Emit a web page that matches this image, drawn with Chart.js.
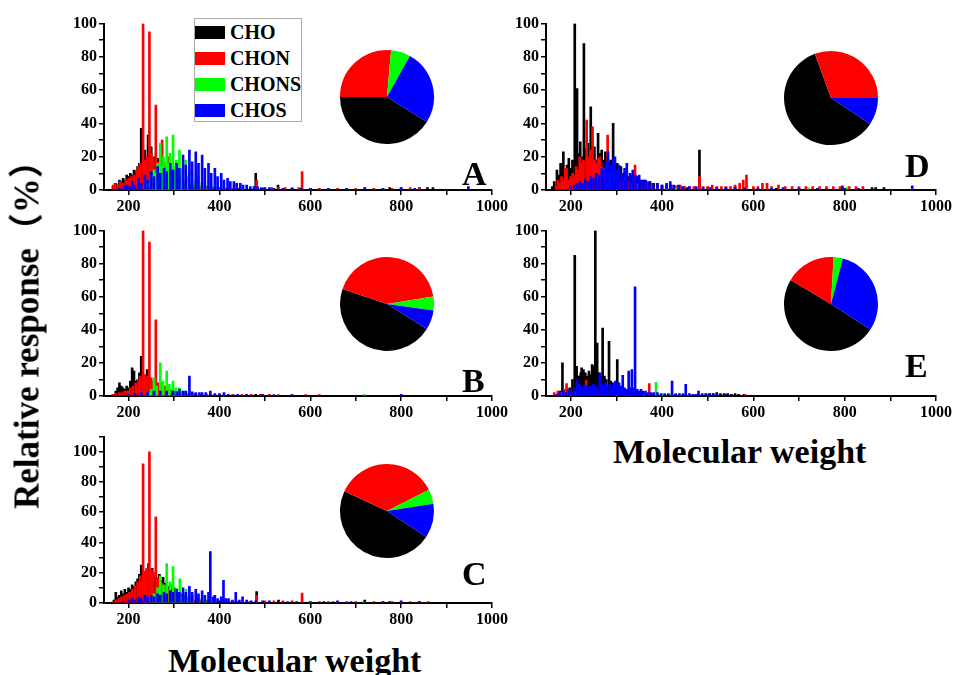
<!DOCTYPE html>
<html>
<head>
<meta charset="utf-8">
<script src="https://cdn.jsdelivr.net/npm/chart.js@4.4.1/dist/chart.umd.min.js"></script>
<style>
body{margin:0;background:#fff;}
#fig{position:relative;width:955px;height:675px;overflow:hidden;font-family:"Liberation Serif","Times New Roman",serif;font-weight:bold;color:#000;}
#fig canvas{position:absolute;}
.txt{position:absolute;font-size:34px;line-height:34px;white-space:nowrap;}
#ytitle{position:absolute;left:27px;top:326px;font-size:35px;line-height:35px;white-space:nowrap;transform:translate(-50%,-50%) rotate(-90deg);font-family:"Liberation Serif","Noto Sans CJK SC",serif;}
#legend{position:absolute;left:194px;top:18px;width:108px;height:104px;border:1px solid #aaa;box-sizing:border-box;background:#fff;}
#legend div{height:26px;display:flex;align-items:center;font-size:20px;}
#legend span{display:inline-block;width:30px;height:13px;margin-right:5px;}
</style>
</head>
<body>
<div id="fig">
<canvas id="barA" width="468" height="208" style="left:44px;top:12px"></canvas>
<canvas id="barB" width="468" height="207" style="left:44px;top:219px"></canvas>
<canvas id="barC" width="468" height="208" style="left:44px;top:425px"></canvas>
<canvas id="barD" width="470" height="208" style="left:486px;top:12px"></canvas>
<canvas id="barE" width="470" height="207" style="left:486px;top:219px"></canvas>
<canvas id="pieA" width="100" height="100" style="left:337px;top:47px"></canvas>
<canvas id="pieB" width="100" height="100" style="left:337px;top:254px"></canvas>
<canvas id="pieC" width="100" height="100" style="left:337px;top:461px"></canvas>
<canvas id="pieD" width="100" height="100" style="left:781px;top:48px"></canvas>
<canvas id="pieE" width="100" height="100" style="left:781px;top:254px"></canvas>
<div id="legend"></div>
<div class="txt" style="left:462px;top:157px">A</div>
<div class="txt" style="left:462px;top:364px">B</div>
<div class="txt" style="left:462px;top:557px">C</div>
<div class="txt" style="left:905px;top:149px">D</div>
<div class="txt" style="left:905px;top:349px">E</div>
<div class="txt" style="left:168px;top:644px">Molecular weight</div>
<div class="txt" style="left:613px;top:435px">Molecular weight</div>
<div id="ytitle">Relative response（%）</div>
</div>

<script>
// ===============================
// Data
// ===============================

const seriesNames=['CHO','CHON','CHONS','CHOS'];
const seriesColors=['#000000','#ff0000','#00ff00','#0000ff'];
const xLabels=[200,400,600,800,1000];
const yLabels=[0,20,40,60,80,100];

// [molecular weight, relative response %]
const aCHO=[[166,2],[172,4],[176,3],[180,6],[184,5],[188,7],[192,6],[196,9],[200,8],[204,10],[208,9],[212,12],[216,11],[220,14],[224,16],[228,37],[232,20],[236,24],[240,18],[243,33],[247,22],[250,26],[254,19],[257,20],[261,17],[264,19],[268,16],[271,18],[275,14],[278,17],[282,13],[285,15],[290,11],[294,12],[298,9],[303,10],[308,7],[314,7],[320,5],[326,5],[334,4],[342,3],[350,3],[360,2],[372,2],[386,1.5],[400,1.5],[420,1],[440,1],[480,10],[496,1],[529,3],[560,1],[600,1],[720,1.5],[775,1.5],[840,1.5],[858,1.5],[870,1.5]];
const aCHON=[[166,3],[170,4],[176,3],[182,5],[188,4],[194,6],[200,7],[206,8],[212,9],[218,12],[222,14],[226,16],[232,100],[236,18],[240,20],[246,95],[250,22],[254,19],[260,51],[264,17],[268,16],[274,30],[278,13],[282,14],[288,20],[292,9],[296,8],[302,10],[308,6],[316,5],[324,4],[332,3],[340,3],[350,2],[360,2],[372,2],[386,1.5],[400,1.5],[414,1],[430,1],[450,1],[482,6],[500,1.5],[515,1.5],[530,1.5],[545,1.5],[560,1.5],[575,1.5],[582,11],[600,1],[620,1],[640,1],[660,1],[680,1],[700,1],[740,1],[760,1],[780,1],[800,1.5],[820,1.5],[840,1]];
const aCHONS=[[236,3],[242,5],[250,8],[256,12],[260,10],[264,16],[270,28],[274,14],[277,20],[284,32],[288,16],[291,22],[298,33],[302,14],[305,18],[312,24],[316,10],[319,13],[326,18],[330,8],[333,10],[340,11],[347,6],[354,8],[361,4],[368,5],[375,3],[382,3],[396,2],[410,1.5],[424,1],[450,1]];
const aCHOS=[[180,1],[190,2],[196,3],[202,2],[208,5],[214,3],[222,7],[228,4],[236,9],[242,6],[250,11],[256,8],[264,14],[270,10],[278,13],[284,11],[292,16],[298,12],[306,16],[312,13],[320,21],[326,15],[334,24],[340,17],[348,23],[354,16],[362,21],[368,13],[376,16],[382,10],[390,13],[396,8],[404,10],[410,6],[418,7],[424,5],[432,5],[438,4],[446,4],[452,3],[460,3],[468,2],[476,2],[484,2],[492,1.5],[500,1.5],[510,1.5],[520,1],[540,1],[560,1],[580,1],[600,1],[640,1],[680,1],[720,1],[760,1],[800,1.5],[830,1],[948,2]];

const bCHO=[[166,1],[172,3],[176,5],[180,8],[184,6],[188,5],[192,4],[196,6],[200,5],[204,9],[208,17],[212,15],[216,9],[220,10],[224,14],[228,24],[232,12],[236,10],[241,16],[245,11],[250,9],[254,8],[258,7],[262,8],[266,6],[270,5],[276,5],[282,4],[288,4],[294,3],[300,3],[308,2],[316,2],[326,1.5],[340,1],[360,1],[380,1],[400,1],[430,1],[460,0.8],[480,1]];
const bCHON=[[166,1],[172,1.5],[180,2],[186,2],[192,3],[198,3],[204,5],[210,6],[216,8],[222,10],[226,12],[232,100],[236,13],[240,12],[246,93],[250,11],[254,9],[260,46],[264,8],[268,7],[274,8],[280,6],[286,5],[292,4],[298,3],[306,3],[314,2],[322,2],[332,1.5],[344,1.5],[358,1],[372,1],[390,1],[410,1],[430,1],[450,1],[470,1],[490,1],[510,1],[530,0.8],[560,0.8],[590,0.8],[620,0.8]];
const bCHONS=[[244,2],[250,4],[256,11],[262,6],[270,20],[276,9],[284,15],[290,7],[298,9],[304,5],[312,5],[318,3],[326,3],[340,2],[354,1],[720,0.8]];
const bCHOS=[[200,1],[214,1.5],[228,2],[242,2.5],[256,3],[270,3],[284,3],[298,3],[306,2.5],[312,4],[320,3],[326,3],[334,12],[340,2.5],[348,2],[356,2],[362,2],[370,2],[380,3],[390,1.5],[400,1.5],[410,2],[420,1],[440,1],[460,1],[495,1],[520,0.8],[560,0.8],[800,1]];

const cCHO=[[168,2],[172,7],[176,4],[180,5],[184,8],[188,6],[192,9],[196,7],[200,10],[204,9],[208,12],[212,11],[216,14],[220,16],[224,19],[228,25],[232,18],[236,20],[240,22],[244,26],[248,20],[252,23],[256,18],[260,21],[264,17],[268,19],[272,15],[276,17],[280,13],[284,14],[288,11],[292,12],[296,9],[300,10],[306,8],[312,7],[318,6],[324,5],[332,4],[340,3],[350,3],[360,2],[372,2],[386,1.5],[400,1.5],[420,1],[440,1],[482,7.6],[500,1],[530,2],[560,1],[600,1],[650,0.8],[720,2],[775,1],[840,1]];
const cCHON=[[166,1],[172,2],[178,3],[184,4],[190,5],[196,6],[202,7],[208,9],[214,11],[220,14],[226,18],[232,92],[236,21],[240,23],[246,100],[250,22],[254,20],[260,57],[264,17],[268,15],[274,13],[280,11],[286,9],[292,7],[298,6],[306,5],[314,4],[322,3],[332,3],[344,2],[358,2],[372,1.5],[390,1.5],[410,1],[430,1.5],[450,1],[466,1],[482,5],[500,1.5],[520,1.5],[540,1.5],[560,1.5],[582,6.5],[600,1],[620,1],[640,1],[660,1],[680,1],[700,1],[740,1],[760,1],[780,1],[800,1],[820,1],[840,1],[860,1]];
const cCHONS=[[250,3],[256,6],[264,10],[270,18],[277,12],[284,26],[291,14],[298,24],[305,10],[313,16],[320,7],[327,9],[334,4],[341,5],[355,3],[369,2],[383,1.5],[600,0.8],[720,0.8]];
const cCHOS=[[190,1],[200,2],[208,3],[214,2],[222,4],[228,3],[236,5],[242,4],[250,5],[256,4],[264,6],[270,5],[278,7],[284,6],[292,8],[298,7],[306,9],[312,7],[320,10],[326,7],[334,11],[340,7],[348,9],[354,6],[362,8],[368,5],[376,7],[380,34],[386,4],[390,5],[396,3],[404,4],[409,15],[414,3],[420,3],[428,2],[436,7],[444,2],[451,4],[460,2],[470,1.5],[480,1.5],[495,1.5],[510,1.5],[530,1],[550,1],[570,1],[600,1],[630,1],[660,1.5],[690,1],[720,1],[760,1],[800,1.5],[840,1]];

const dCHO=[[160,2],[164,5],[170,12],[174,9],[178,16],[182,14],[184,23],[188,10],[192,15],[196,19],[200,13],[204,18],[209,100],[214,61],[218,22],[221,29],[224,20],[229,88],[234,25],[238,28],[244,50],[248,22],[252,26],[256,18],[260,34],[264,22],[268,24],[272,18],[276,23],[280,20],[284,17],[288,18],[293,40],[298,15],[302,16],[306,12],[310,14],[316,10],[322,11],[328,8],[334,9],[340,7],[346,8],[352,6],[360,6],[366,5],[374,5],[382,4],[390,4],[400,3],[410,3],[420,3],[430,2],[440,2],[456,1.5],[470,1.5],[482,24],[500,1.5],[520,1.5],[540,1.5],[560,2],[580,1.5],[600,1],[650,1],[700,1],[760,1],[800,1],[860,1.5],[868,1.5],[886,1.5]];
const dCHON=[[168,2],[172,6],[176,4],[180,8],[184,5],[188,13],[191,13],[196,6],[200,8],[204,10],[208,9],[212,14],[216,12],[220,20],[224,16],[228,18],[235,42],[240,20],[244,24],[248,38],[252,18],[256,16],[260,19],[264,20],[268,14],[272,13],[276,11],[281,33],[286,10],[290,9],[296,8],[302,7],[308,6],[314,6],[320,5],[326,5],[334,4],[341,15],[348,4],[356,3],[364,3],[372,3],[380,2.5],[390,2],[400,2],[410,2],[420,2],[430,2.5],[440,3],[450,2],[460,2],[470,2],[482,8],[490,2],[500,2],[510,3],[520,2],[530,2],[540,2],[550,2],[560,3],[570,4],[578,6],[585,9],[600,2],[610,2],[620,4],[630,4],[640,2],[655,3],[670,2],[685,2],[700,2],[715,2],[730,2],[745,2],[760,2],[775,2],[790,2],[810,2],[825,2],[840,2]];
const dCHONS=[[410,1.5],[430,1.5],[720,1.5],[805,1.5]];
const dCHOS=[[200,2],[208,3],[214,4],[220,5],[226,4],[232,6],[238,5],[244,8],[250,7],[256,10],[262,9],[268,13],[272,12],[277,17],[282,23],[288,15],[293,19],[297,20],[302,12],[306,15],[312,10],[318,13],[323,16],[330,10],[336,12],[342,9],[350,9],[356,6],[364,6],[372,5],[380,4],[390,4],[400,3],[410,4],[418,5],[426,3],[436,3],[446,2],[460,2],[475,2],[490,1.5],[505,1.5],[520,1.5],[540,1.5],[560,1.5],[580,1],[610,1],[640,1],[665,1.5],[700,1],[740,1],[795,2.5],[830,1],[948,2.5]];

const eCHO=[[170,1],[176,3],[182,20],[186,3],[192,4],[198,5],[204,10],[209,85],[213,18],[218,12],[222,14],[224,17],[228,16],[232,14],[236,12],[240,15],[244,13],[247,19],[250,18],[254,100],[258,32],[262,14],[266,12],[270,41],[274,12],[278,10],[284,33],[288,9],[292,8],[296,7],[302,22],[306,6],[312,5],[318,4],[326,3],[334,3],[342,2],[350,2],[360,1.5],[370,1.5],[380,1],[400,1],[430,1],[460,1],[480,1],[496,1.5],[504,1.5],[512,1.5],[520,2],[528,1.5],[536,1.5],[544,1.5],[552,1],[560,1.5],[568,1],[580,1]];
const eCHON=[[164,2],[172,3],[180,2],[186,4],[191,7.5],[196,3],[200,3],[206,2],[212,3],[220,2],[226,4],[234,9.5],[240,4],[246,3],[252,2],[260,2],[270,2],[280,2],[300,1.5],[320,1.5],[340,1],[360,1.5],[372,7.5],[380,1],[400,1],[430,1],[460,1],[500,0.8],[582,1]];
const eCHONS=[[300,1],[330,1],[360,1],[387,8.3],[400,1],[420,1],[440,1]];
const eCHOS=[[170,1],[176,2],[184,3],[190,2],[196,4],[202,3],[208,5],[214,10],[218,7],[222,6],[226,5],[230,7],[234,6],[238,5],[242,6],[246,5],[250,7],[254,6],[258,5],[264,14],[268,7],[272,6],[276,8],[280,6],[286,7],[290,5],[294,7],[298,9],[302,6],[306,8],[310,6],[314,12.5],[318,5],[322,4],[327,15],[331,5],[334,16],[338,5],[341,66],[346,4],[350,3],[354,4],[358,3],[364,3],[370,2],[376,2],[382,2],[390,2],[398,1.5],[406,1.5],[414,1.5],[422,9],[430,1.5],[438,1.5],[446,1.5],[452,7],[460,1.5],[468,1],[474,1],[480,3],[488,1.5],[496,1],[504,1.5],[512,1.5],[520,1],[540,1]];

// pie shares (%) in order CHO, CHON, CHONS, CHOS
const pieAShares=[41.1,26.4,6.7,25.8];
const pieBShares=[46.3,42.3,4.7,6.7];
const pieCShares=[47.6,35.6,5.0,11.8];
const pieDShares=[60.1,30.6,0,9.3];
const pieEShares=[49.4,17.3,3.2,30.1];


// ===============================
// Spectrum (Bar Chart)
// ===============================

const tickFont={family:'Liberation Serif',weight:'bold',size:16};

function spectrum(id,series,yMax){

new Chart(document.getElementById(id),{

type:'bar',

data:{
datasets:series.map((s,i)=>({
label:seriesNames[i],
data:s.map(p=>({x:p[0],y:p[1]})),
backgroundColor:seriesColors[i],
barThickness:2,
stack:'ms',
order:4-i
}))
},

options:{
responsive:false,
animation:false,
layout:{padding:{top:10,right:20,left:0,bottom:0}},
plugins:{legend:{display:false},tooltip:{enabled:false}},
scales:{
x:{
type:'linear',
offset:false,
min:146,
max:1000,
border:{color:'#000',width:2},
grid:{offset:false,drawOnChartArea:false,tickLength:5,color:'#000',lineWidth:1.5},
ticks:{stepSize:100,includeBounds:false,autoSkip:false,maxRotation:0,padding:2,color:'#000',font:tickFont,
callback:v=>xLabels.includes(v)?v:''},
afterFit:s=>{s.height=30;}
},
y:{
stacked:false,
min:0,
max:yMax,
border:{color:'#000',width:2},
grid:{drawOnChartArea:false,tickLength:5,color:'#000',lineWidth:1.5},
ticks:{stepSize:10,includeBounds:false,autoSkip:false,padding:2,color:'#000',font:tickFont,
callback:v=>yLabels.includes(v)?v:''},
afterFit:s=>{s.width=60;}
}
}
}

});

}

spectrum('barA',[aCHO,aCHON,aCHONS,aCHOS],100);
spectrum('barB',[bCHO,bCHON,bCHONS,bCHOS],100);
spectrum('barC',[cCHO,cCHON,cCHONS,cCHOS],110);
spectrum('barD',[dCHO,dCHON,dCHONS,dCHOS],100);
spectrum('barE',[eCHO,eCHON,eCHONS,eCHOS],100);


// ===============================
// Composition (Pie Chart)
// ===============================

function pie(id,shares,rot){

new Chart(document.getElementById(id),{

type:'pie',

data:{
labels:seriesNames,
datasets:[{
data:shares,
backgroundColor:seriesColors,
borderWidth:0
}]
},

options:{
responsive:false,
animation:false,
rotation:rot,
radius:47,
plugins:{legend:{display:false},tooltip:{enabled:false}}
}

});

}

pie('pieA',pieAShares,122);
pie('pieB',pieBShares,122);
pie('pieC',pieCShares,123.5);
pie('pieD',pieDShares,123.5);
pie('pieE',pieEShares,123);


// ===============================
// Legend
// ===============================

const legend=document.getElementById('legend');

seriesNames.forEach((name,i)=>{
const row=document.createElement('div');
row.innerHTML='<span style="background:'+seriesColors[i]+'"></span>'+name;
legend.appendChild(row);
});
</script>
</body>
</html>
